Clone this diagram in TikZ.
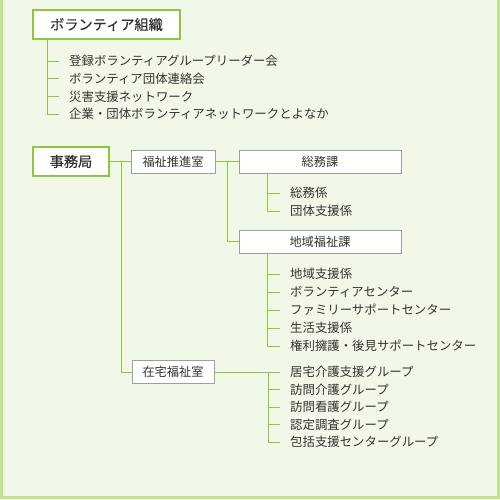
\documentclass[tikz,border=0pt]{standalone}
\usepackage{fontspec}
\setmainfont{Noto Sans CJK JP}
\newfontfamily\headjp[FakeBold=0.5]{Noto Sans CJK JP}
\usetikzlibrary{calc}

\definecolor{frame}{HTML}{C3E28F}
\definecolor{paper}{HTML}{F1F8E7}
\definecolor{leaf}{HTML}{8DC63F}
\definecolor{ink}{HTML}{333333}

\begin{document}
\begin{tikzpicture}[x=1pt, y=-1pt,
  gbox/.style={draw=leaf, line width=1.3pt, fill=white, text=ink, minimum height=29pt, font=\headjp\fontsize{14.2}{16}\selectfont},
  wbox/.style={draw=black!38, line width=1pt, fill=white, text=ink, minimum height=23pt, font=\fontsize{12.2}{14}\selectfont},
  item/.style={right, inner sep=0pt, text=ink, font=\fontsize{12.4}{14}\selectfont},
  link/.style={draw=leaf, line width=1pt}]

\useasboundingbox (0,0) rectangle (500,499);
\fill[frame] (0,0) rectangle (500,499);
\fill[paper] (3,0) rectangle (497,495.5);

% boxes
\node[gbox, minimum width=147pt] (org) at (106.5, 24.5) {ボランティア組織};
\node[gbox, minimum width=76pt] (jimu) at (71, 161.5) {事務局};
\node[wbox, minimum width=84pt] (fuku) at (173, 161.5) {福祉推進室};
\node[wbox, minimum width=162pt] (soumu) at (320, 161.5) {総務課};
\node[wbox, minimum width=162pt] (chiiki) at (320, 241.5) {地域福祉課};
\node[wbox, minimum width=82pt] (zai) at (173, 372) {在宅福祉室};

% lists
\foreach \t [count=\i] in {登録ボランティアグループリーダー会, ボランティア団体連絡会, 災害支援ネットワーク, 企業・団体ボランティアネットワークとよなか}
  \node[item] (o\i) at (69, 43.3+17.7*\i) {\t};
\foreach \t [count=\i] in {総務係, 団体支援係}
  \node[item] (s\i) at (290, 175+18*\i) {\t};
\foreach \t [count=\i] in {地域支援係, ボランティアセンター, ファミリーサポートセンター, 生活支援係, 権利擁護・後見サポートセンター}
  \node[item] (c\i) at (290, 256+18*\i) {\t};
\foreach \t [count=\i] in {居宅介護支援グループ, 訪問介護グループ, 訪問看護グループ, 認定調査グループ, 包括支援センターグループ}
  \node[item] (z\i) at (290, 354.5+17.5*\i) {\t};

% main tree
\draw[link] (jimu.east) -- (fuku.west);
\draw[link] ($(jimu.east)!0.59!(fuku.west)$) coordinate (a) |- (zai.west);
\draw[link] (fuku.east) -- (soumu.west);
\draw[link] ($(fuku.east)!0.5!(soumu.west)$) coordinate (b) |- (chiiki.west);

% branches
\draw[link] ([xshift=15pt]org.south west) |- ([xshift=-10pt]o4.west);
\foreach \i in {1,2,3}
  \draw[link] ([xshift=15pt]org.south west |- o\i.west) -- ([xshift=-10pt]o\i.west);
\draw[link] ([xshift=29pt]soumu.south west) |- ([xshift=-10pt]s2.west);
\draw[link] ([xshift=29pt]soumu.south west |- s1.west) -- ([xshift=-10pt]s1.west);
\draw[link] ([xshift=29pt]chiiki.south west) |- ([xshift=-10pt]c5.west);
\foreach \i in {1,...,4}
  \draw[link] ([xshift=29pt]chiiki.south west |- c\i.west) -- ([xshift=-10pt]c\i.west);
\draw[link] (zai.east) -- ([xshift=-10pt]z1.west);
\draw[link] ([xshift=-22pt]z1.west) |- ([xshift=-10pt]z5.west);
\foreach \i in {2,3,4}
  \draw[link] ([xshift=-22pt]z\i.west) -- ([xshift=-10pt]z\i.west);

\end{tikzpicture}
\end{document}
